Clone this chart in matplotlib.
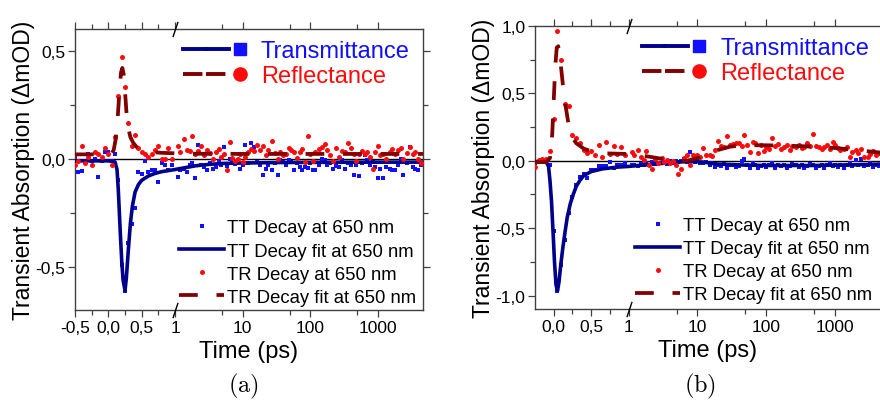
import numpy as np
import matplotlib
matplotlib.use('Agg')
import matplotlib.pyplot as plt
from matplotlib.lines import Line2D
from matplotlib.legend_handler import HandlerTuple
from matplotlib.transforms import blended_transform_factory

plt.rcParams['font.family'] = ['Liberation Sans', 'DejaVu Sans']
plt.rcParams['mathtext.fontset'] = 'cm'

# time grids (ps): linear part before the break, log part after it
t_lin_a = [-0.5, -0.45, -0.4, -0.35, -0.3, -0.25, -0.2, -0.15, -0.1, -0.05,
           0.0, 0.05, 0.1, 0.15, 0.2, 0.25, 0.3, 0.35, 0.4, 0.45,
           0.5, 0.55, 0.6, 0.65, 0.7, 0.75, 0.8, 0.85, 0.9, 0.95]
t_lin_b = [-0.25, -0.2, -0.15, -0.1, -0.05, 0.0, 0.05, 0.1, 0.15, 0.2,
           0.25, 0.3, 0.35, 0.4, 0.45, 0.5, 0.55, 0.6, 0.65, 0.7,
           0.75, 0.8, 0.85, 0.9, 0.95]
t_log = [1.1, 1.2, 1.35, 1.5, 1.65, 1.8, 2.0, 2.2, 2.4, 2.7,
         3.0, 3.3, 3.6, 4.0, 4.4, 4.8, 5.3, 5.8, 6.4, 7.0,
         7.7, 8.5, 9.3, 10, 11, 12, 13.5, 15, 16.5, 18,
         20, 22, 24, 27, 30, 33, 36, 40, 44, 48,
         53, 58, 64, 70, 77, 85, 93, 100, 110, 120,
         135, 150, 165, 180, 200, 220, 240, 270, 300, 330,
         360, 400, 440, 480, 530, 580, 640, 700, 770, 850,
         930, 1000, 1100, 1200, 1350, 1500, 1650, 1800, 2000, 2200,
         2400, 2700, 3000, 3300, 3600, 4000, 4400]

# panel (a) measured points
tt_a_lin = [0.01, -0.06, -0.055, -0.01, 0.02, -0.01, 0.0, -0.085, -0.01, 0.03,
            0.03, -0.01, 0.02, -0.10, -0.49, -0.61, -0.39, -0.30, -0.23, -0.06,
            -0.07, -0.01, -0.06, -0.05, -0.05, -0.11, -0.02, -0.03, -0.05, -0.03]
tt_a_log = [-0.085, -0.054, -0.046, -0.06, -0.03, -0.02, -0.09, 0.062, -0.03, -0.04,
            -0.054, -0.02, -0.046, -0.04, -0.01, -0.03, 0.055, -0.035, 0.0, -0.02,
            -0.025, -0.008, -0.046, -0.03, 0.062, -0.02, 0.074, 0.055, -0.015, -0.03,
            -0.077, -0.046, -0.03, -0.054, -0.02, -0.077, -0.008, -0.015, -0.03, -0.008,
            -0.015, -0.05, -0.02, -0.04, -0.05, -0.039, -0.042, -0.02, -0.054, -0.054,
            -0.031, 0.0, -0.008, -0.03, -0.02, -0.046, -0.035, -0.039, -0.005, -0.046,
            -0.02, -0.03, -0.074, -0.031, -0.08, -0.02, 0.015, -0.008, -0.03, -0.015,
            -0.04, -0.09, -0.046, -0.09, -0.039, -0.046, -0.05, -0.054, -0.03, 0.0,
            -0.077, -0.02, 0.052, -0.039, -0.046, -0.054, -0.03]
tr_a_lin = [-0.03, -0.01, 0.06, -0.02, 0.01, -0.03, 0.03, 0.02, 0.01, 0.05,
            0.02, -0.03, 0.10, 0.29, 0.47, 0.33, 0.165, 0.06, 0.11, 0.05,
            0.03, 0.02, 0.01, 0.02, 0.04, 0.06, 0.0, 0.0, 0.05, 0.0]
tr_a_log = [0.06, 0.03, 0.09, 0.04, 0.035, 0.105, 0.02, 0.035, 0.06, 0.015,
            0.04, 0.025, 0.00, 0.03, 0.045, 0.01, 0.02, -0.05, 0.075, 0.005,
            -0.01, 0.00, 0.02, -0.015, 0.01, 0.03, 0.045, 0.035, 0.065, 0.04,
            0.06, 0.015, 0.04, 0.08, 0.025, 0.00, 0.03, 0.015, 0.02, 0.05,
            0.04, 0.03, 0.005, 0.03, 0.045, -0.015, 0.105, 0.02, -0.01, 0.03,
            0.045, 0.055, 0.068, 0.04, 0.015, -0.012, 0.05, 0.01, 0.035, 0.03,
            0.074, 0.05, 0.02, -0.01, 0.02, 0.035, 0.02, 0.03, 0.01, -0.048,
            0.03, 0.06, 0.015, 0.02, 0.00, 0.03, 0.045, 0.02, 0.04, 0.05,
            0.00, 0.025, 0.055, 0.02, 0.03, 0.0, -0.02]

# panel (a) fits
ttfit_a_t = [-0.5, -0.3, -0.1, 0.0, 0.1, 0.13, 0.15, 0.18, 0.2, 0.22, 0.25, 0.27, 0.3, 0.33, 0.36,
             0.4, 0.45, 0.5, 0.6, 0.7, 0.8, 1.0, 1.5, 2, 3, 5, 10, 30, 100, 1000, 4700]
ttfit_a = [-0.01, -0.01, -0.01, -0.01, -0.015, -0.05, -0.15, -0.35, -0.47, -0.56, -0.61, -0.55, -0.42, -0.30, -0.22,
           -0.155, -0.12, -0.10, -0.08, -0.068, -0.06, -0.05, -0.04, -0.033, -0.027, -0.022, -0.02, -0.018, -0.017, -0.016, -0.016]
trfit_a_t = [-0.5, -0.2, 0.0, 0.05, 0.08, 0.11, 0.14, 0.17, 0.19, 0.21, 0.23, 0.25, 0.27,
             0.3, 0.33, 0.37, 0.42, 0.5, 0.6, 0.8, 1.0, 2, 10, 100, 1000, 4700]
trfit_a = [0.02, 0.02, 0.02, 0.025, 0.04, 0.09, 0.19, 0.33, 0.40, 0.42, 0.39, 0.31, 0.22,
           0.14, 0.10, 0.075, 0.055, 0.04, 0.032, 0.027, 0.025, 0.023, 0.022, 0.022, 0.022, 0.022]

# panel (b) measured points
tt_b_lin = [-0.02, -0.01, -0.01, -0.005, -0.03, -0.52, -0.97, -0.77, -0.59, -0.39,
            -0.27, -0.18, -0.12, -0.10, -0.13, -0.07, -0.07, -0.04, -0.04, -0.04,
            -0.01, -0.05, -0.03, -0.03, -0.02]
tt_b_log = [-0.035, -0.03, -0.04, -0.025, -0.03, -0.02, -0.03, -0.01, -0.025, -0.015,
            -0.02, -0.01, -0.025, 0.0, -0.015, -0.005, -0.01, 0.0, 0.01, -0.01,
            0.065, 0.0, -0.01, 0.005, -0.015, -0.02, -0.01, -0.035, -0.02, -0.045,
            -0.03, -0.04, -0.025, -0.05, -0.035, -0.03, -0.045, -0.04, 0.0, 0.01,
            -0.03, -0.05, -0.02, -0.035, -0.055, -0.04, -0.03, -0.045, -0.035, -0.02,
            -0.05, -0.035, -0.04, -0.03, -0.055, -0.04, -0.025, -0.035, -0.045, -0.03,
            -0.05, -0.04, -0.025, -0.035, -0.05, -0.04, -0.03, -0.055, -0.035, -0.02,
            -0.04, -0.03, -0.045, -0.035, -0.05, -0.03, -0.02, -0.04, 0.005, -0.035,
            0.01, -0.04, -0.03, -0.02, -0.045, -0.03, -0.04]
tr_b_lin = [-0.045, 0.005, 0.01, 0.01, 0.07, 0.31, 0.96, 0.75, 0.42, 0.41,
            0.19, 0.17, 0.13, 0.08, 0.06, 0.07, 0.04, 0.12, 0.03, 0.14,
            0.05, 0.11, 0.05, 0.10, 0.04]
tr_b_log = [0.065, 0.04, 0.077, 0.03, 0.002, 0.07, -0.035, -0.06, 0.01, -0.02,
            0.02, -0.01, 0.005, -0.02, 0.0, -0.03, -0.097, -0.06, 0.02, 0.045,
            -0.03, 0.045, 0.035, 0.04, 0.03, 0.095, 0.04, 0.045, 0.035, 0.08,
            0.144, 0.11, 0.1, 0.184, 0.12, 0.125, 0.13, 0.13, 0.11, 0.194,
            0.12, 0.065, 0.14, 0.13, 0.06, 0.12, 0.075, 0.1, 0.09, 0.17,
            0.11, 0.125, 0.09, 0.1, 0.115, 0.08, 0.11, 0.1, 0.12, 0.095,
            0.1, 0.13, 0.11, 0.2, 0.11, 0.105, 0.09, 0.1, 0.115, 0.09,
            0.14, 0.115, 0.095, 0.08, 0.09, 0.1, 0.03, 0.065, 0.08, 0.06,
            0.09, 0.025, 0.03, 0.05, 0.07, 0.04, 0.06]

# panel (b) fits
ttfit_b_t = [-0.25, -0.1, -0.07, -0.05, -0.03, -0.01, 0.01, 0.03, 0.05, 0.07, 0.09, 0.12, 0.15, 0.18,
             0.22, 0.26, 0.3, 0.35, 0.4, 0.5, 0.65, 0.85, 1.0, 1.5, 2, 3, 5, 8, 12, 20, 50, 100, 500, 2000, 4700]
ttfit_b = [-0.005, -0.01, -0.04, -0.15, -0.3, -0.52, -0.75, -0.92, -0.965, -0.9, -0.79, -0.65, -0.53, -0.42,
           -0.32, -0.25, -0.19, -0.145, -0.11, -0.08, -0.06, -0.047, -0.042, -0.033, -0.028, -0.02, -0.01, -0.005,
           -0.01, -0.025, -0.032, -0.035, -0.035, -0.03, -0.025]
trfit_b_t = [-0.25, -0.1, -0.05, -0.02, 0.0, 0.02, 0.04, 0.06, 0.08, 0.1, 0.13, 0.16, 0.2, 0.25, 0.3,
             0.4, 0.5, 0.7, 1.0, 1.5, 2, 3, 5, 7, 10, 15, 20, 30, 50, 100, 200, 500, 1000, 2000, 4700]
trfit_b = [-0.01, -0.01, 0.02, 0.2, 0.45, 0.7, 0.84, 0.85, 0.78, 0.68, 0.52, 0.4, 0.26, 0.17, 0.13,
           0.09, 0.07, 0.055, 0.05, 0.04, 0.03, 0.015, 0.0, 0.0, 0.02, 0.05, 0.08, 0.105, 0.115, 0.115,
           0.112, 0.105, 0.095, 0.08, 0.06]

BLUE, NAVY, RED, DRED = '#1010ff', '#00008b', '#ff0a0a', '#800000'
FRAME = '#404040'


def broken_scale(k):
  # linear up to 1 ps, log10 afterwards (k = decade width / linear unit)
  def fwd(x):
    x = np.asarray(x, dtype=float)
    return np.where(x <= 1, x, 1 + k*np.log10(np.where(x > 1, x, 1.0)))
  def inv(u):
    u = np.asarray(u, dtype=float)
    return np.where(u <= 1, u, 10**((np.where(u > 1, u, 1.0) - 1)/k))
  return fwd, inv


def panel(ax, t, tt, tr, ttf_t, ttf, trf_t, trf, k, xlo, ylim, yt, ytl, yminor, xmajor, xlabels, xminor):
  ax.set_xscale('function', functions=broken_scale(k))
  ax.axhline(0, color='k', lw=1.0, zorder=1)
  ax.plot(t, tt, ls='none', marker='s', ms=2.8, mew=0, color=BLUE, label='TT Decay at 650 nm', zorder=2)
  ax.plot(ttf_t, ttf, '-', lw=2.6, color=NAVY, label='TT Decay fit at 650 nm', zorder=3)
  ax.plot(t, tr, ls='none', marker='o', ms=3.6, mew=0, color=RED, label='TR Decay at 650 nm', zorder=4)
  ax.plot(trf_t, trf, ls=(0, (5, 5)), lw=2.7, color=DRED, label='TR Decay fit at 650 nm', zorder=5)
  ax.set_xlim(xlo, 4700)
  ax.set_ylim(*ylim)
  ax.set_xticks(xmajor, xlabels)
  ax.set_xticks(xminor, minor=True)
  ax.set_yticks(yt, ytl)
  ax.set_yticks(yminor, minor=True)
  ax.tick_params(which='both', direction='out', top=True, right=True, color=FRAME, labelsize=12.5, pad=2)
  ax.tick_params(which='major', length=5, width=0.9)
  ax.tick_params(which='minor', length=3.5, width=0.9)
  for s in ax.spines.values():
    s.set_color(FRAME)
    s.set_linewidth(1.0)
  ax.set_xlabel('Time (ps)', fontsize=17, labelpad=4)
  ax.set_ylabel('Transient Absorption (\u0394mOD)', fontsize=16.5, labelpad=0)
  # break marks on the top and bottom spines
  tr_b = blended_transform_factory(ax.transData, ax.transAxes)
  for yy in (0, 1):
    ax.plot([1], [yy], transform=tr_b, marker=[(-1, -3), (1, 3)], ms=11, mew=1.0,
            color='k', clip_on=False, zorder=6)


def legends(ax, top_x, top_y, bot_x, bot_y):
  h1 = (Line2D([], [], color=NAVY, lw=2.8), Line2D([], [], color=NAVY, lw=2.8),
        Line2D([], [], ls='none', marker='s', ms=9, color=BLUE))
  h2 = (Line2D([], [], color=DRED, lw=2.8, ls=(0, (5, 5))), Line2D([], [], color=DRED, lw=2.8, ls=(0, (5, 5))),
        Line2D([], [], ls='none', marker='o', ms=9.5, color=RED))
  leg1 = ax.legend([h1, h2], ['Transmittance', 'Reflectance'], loc='upper left',
                   bbox_to_anchor=(top_x, top_y), frameon=False, fontsize=17,
                   handler_map={tuple: HandlerTuple(ndivide=None, pad=0)},
                   handlelength=2.9, handletextpad=0.4, labelspacing=0.12,
                   borderpad=0, borderaxespad=0, labelcolor=[BLUE, RED])
  ax.add_artist(leg1)
  ax.legend(loc='lower left', bbox_to_anchor=(bot_x, bot_y), frameon=False, fontsize=13.3,
            handlelength=2.4, handletextpad=0.2, labelspacing=0.33, borderpad=0,
            borderaxespad=0, markerscale=1.0)


fig = plt.figure(figsize=(8.8, 4.06), dpi=100)
ax_a = fig.add_axes([75/880, 1 - 311/406, 348/880, 281/406])
ax_b = fig.add_axes([535/880, 1 - 310/406, 346/880, 283/406])

panel(ax_a, t_lin_a + t_log, tt_a_lin + tt_a_log, tr_a_lin + tr_a_log,
      ttfit_a_t, ttfit_a, trfit_a_t, trfit_a, 1.012, -0.5, (-0.7, 0.6),
      [-0.5, 0.0, 0.5], ['-0,5', '0,0', '0,5'], [-0.25, 0.25],
      [-0.5, 0.0, 0.5, 1, 10, 100, 1000], ['-0,5', '0,0', '0,5', '1', '10', '100', '1000'],
      [-0.25, 0.25, 0.75, 5, 50, 500])
panel(ax_b, t_lin_b + t_log, tt_b_lin + tt_b_log, tr_b_lin + tr_b_log,
      ttfit_b_t, ttfit_b, trfit_b_t, trfit_b, 0.916, -0.25, (-1.1, 1.0),
      [-1.0, -0.5, 0.0, 0.5, 1.0], ['-1,0', '-0,5', '0,0', '0,5', '1,0'], [-0.75, -0.25, 0.25, 0.75],
      [0.0, 0.5, 1, 10, 100, 1000], ['0,0', '0,5', '1', '10', '100', '1000'],
      [0.25, 0.75, 5, 50, 500])

legends(ax_a, 0.31, 0.96, 0.30, 0.015)
legends(ax_b, 0.31, 0.96, 0.29, 0.02)

fig.text(243/880, 1 - 386/406, r'$\mathrm{(a)}$', ha='center', va='center', fontsize=17.5)
fig.text(700/880, 1 - 386/406, r'$\mathrm{(b)}$', ha='center', va='center', fontsize=17.5)

fig.savefig('out.png', dpi=100)
